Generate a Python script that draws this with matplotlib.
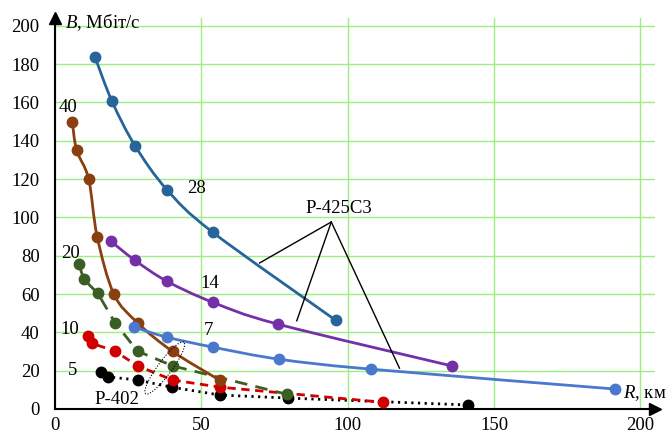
import numpy as np
import matplotlib.pyplot as plt
from matplotlib.path import Path
from matplotlib.patches import PathPatch

plt.rcParams['font.family'] = ['Liberation Serif', 'DejaVu Serif']
plt.rcParams['font.size'] = 13.5
plt.rcParams['mathtext.fontset'] = 'custom'
plt.rcParams['mathtext.rm'] = 'Liberation Serif'
plt.rcParams['mathtext.it'] = 'Liberation Serif:italic'

# дальність R (км) та швидкість B (Мбіт/с)
r28 = [13.7, 19.5, 27.3, 38.2, 53.9, 95.9]
b28 = [183.5, 160.5, 137.5, 114.5, 92.2, 46.3]
r14 = [19.1, 27.3, 38.2, 53.9, 76.1, 135.8]
b14 = [87.5, 77.6, 66.7, 55.7, 44.3, 22.4]
r7 = [27.0, 38.2, 53.9, 76.5, 107.8, 191.5]
b7 = [42.7, 37.5, 32.3, 26.0, 20.8, 10.4]
r40 = [5.9, 7.4, 11.5, 14.4, 20.1, 28.2, 40.2, 56.3]
b40 = [150.0, 135.0, 120.0, 90.0, 60.0, 45.0, 30.0, 15.0]
r20 = [8.2, 9.8, 14.6, 20.5, 28.2, 40.2, 79.4]
b20 = [75.5, 67.7, 60.4, 45.0, 30.2, 22.5, 7.6]
r10 = [11.4, 12.7, 20.5, 28.2, 40.2, 56.3, 112.0]
b10 = [38.2, 34.2, 30.2, 22.5, 15.1, 11.4, 3.5]
r5 = [15.7, 18.0, 28.2, 40.1, 56.3, 79.5, 141.0]
b5 = [19.1, 16.8, 15.1, 11.3, 7.3, 5.7, 2.1]


def smooth_path(x, y):
    # крива Безьє через точки, як у Excel
    p = np.column_stack([x, y])
    n = len(p)
    verts = [p[0]]
    codes = [Path.MOVETO]
    for i in range(n - 1):
        p0 = p[i - 1] if i > 0 else p[i]
        p3 = p[i + 2] if i + 2 < n else p[i + 1]
        c1 = p[i] + (p[i + 1] - p0) / 6
        c2 = p[i + 1] - (p3 - p[i]) / 6
        verts += [c1, c2, p[i + 1]]
        codes += [Path.CURVE4] * 3
    return Path(verts, codes)


fig = plt.figure(figsize=(6.7, 4.41), dpi=100)
ax = fig.add_axes([0.0821, 0.0726, 0.8955, 0.8864])
ax.set_xlim(0, 205)
ax.set_ylim(0, 204)

series = [
    (r5, b5, 'black', (0, (0.8, 1.6)), False),
    (r10, b10, '#d00000', (0, (3, 2)), False),
    (r20, b20, '#3b5e25', (0, (4.5, 3)), False),
    (r40, b40, '#8a3f10', '-', True),
    (r7, b7, '#4a78cc', '-', True),
    (r14, b14, '#7430a8', '-', True),
    (r28, b28, '#27649a', '-', True),
]
for i, (x, y, c, ls, sm) in enumerate(series):
    if sm:
        ax.add_patch(PathPatch(smooth_path(x, y), fill=False, ec=c, lw=2,
                               ls=ls, zorder=3 + i))
    else:
        ax.plot(x, y, color=c, lw=2, ls=ls, zorder=3 + i)
    ax.plot(x, y, 'o', color=c, ms=7.5, zorder=3 + i)

ax.set_xticks([0, 50, 100, 150, 200])
ax.set_yticks(range(0, 201, 20))
ax.grid(True, color='#9cee80', lw=1)
ax.tick_params(length=0, labelsize=13.5)
ax.tick_params(axis='x', pad=6)
ax.tick_params(axis='y', pad=11)
for s in ['top', 'right']:
    ax.spines[s].set_visible(False)
for s in ['left', 'bottom']:
    ax.spines[s].set_linewidth(1.5)
ax.plot(1, 0, '>k', ms=8, transform=ax.transAxes, clip_on=False)
ax.plot(0, 1, '^k', ms=8, transform=ax.transAxes, clip_on=False)

ax.text(3.5, 201.5, r'$B$, Мбіт/с', ha='left', va='center')
ax.text(194, 8.5, r'$R$, км', ha='left', va='center')

for lbl, x, y in [('40', 4.3, 157.3), ('20', 5.3, 81.4), ('10', 5.1, 41.7),
                  ('5', 5.9, 20.0), ('28', 48.2, 115.0), ('14', 53.0, 65.5),
                  ('7', 52.4, 40.8)]:
    ax.text(x, y, lbl, ha='center', va='center')

ax.text(97, 104.7, 'Р-425С3', ha='center', va='center')
for ex, ey in [(69.9, 76.2), (82.6, 46.0), (117.7, 21.3)]:
    ax.plot([94.4, ex], [97.6, ey], color='black', lw=1, zorder=12)

ax.text(21.2, 5.2, 'Р-402', ha='center', va='center')
# пунктирний еліпс навколо точок Р-402 (у пікселях)
sx = fig.get_figwidth() * fig.dpi * 0.8955 / 205
sy = fig.get_figheight() * fig.dpi * 0.8864 / 204
t = np.linspace(0, 2 * np.pi, 100)
a, b, ang = 32, 7, np.deg2rad(53.5)
px = a * np.cos(t) * np.cos(ang) - b * np.sin(t) * np.sin(ang)
py = a * np.cos(t) * np.sin(ang) + b * np.sin(t) * np.cos(ang)
ax.plot(37.5 + px / sx, 21.4 + py / sy, color='black', lw=0.8,
        ls=(0, (1, 1.5)), zorder=12)

fig.savefig('out.png', dpi=100)
